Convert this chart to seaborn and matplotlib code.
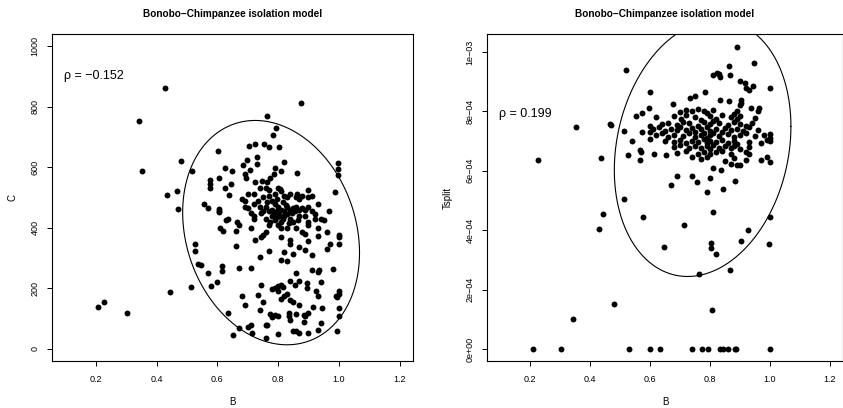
import numpy as np
import pandas as pd
import matplotlib
matplotlib.use("Agg")
import matplotlib.pyplot as plt
import seaborn as sns

sns.set_theme(style="white")
plt.rcParams['font.family'] = ['Liberation Sans', 'DejaVu Sans']
plt.rcParams['text.color'] = 'black'
plt.rcParams['axes.labelcolor'] = 'black'
plt.rcParams['xtick.color'] = 'black'
plt.rcParams['ytick.color'] = 'black'
plt.rcParams['axes.edgecolor'] = 'black'

# ---------------- data ----------------
left_pairs = [
    (0.428, 863), (0.876, 812), (0.341, 754), (0.763, 769), (0.792, 728), (0.783, 706),
    (0.705, 671), (0.724, 676), (0.755, 677), (0.769, 666), (0.803, 666), (0.603, 654),
    (0.730, 635), (0.698, 624), (0.730, 612), (0.819, 618), (0.996, 615), (0.481, 622),
    (0.684, 608), (0.625, 597),
    (0.791, 598), (0.811, 589), (0.862, 582), (0.998, 593), (0.996, 575), (0.709, 592),
    (0.690, 577), (0.649, 586), (0.516, 587), (0.352, 586), (0.604, 564), (0.577, 559),
    (0.694, 565), (0.775, 565), (0.785, 577), (0.747, 555), (0.763, 552), (0.723, 550),
    (0.577, 544), (0.577, 530), (0.646, 546), (0.625, 532), (0.638, 508), (0.987, 519),
    (0.466, 522), (0.436, 509), (0.862, 512), (0.840, 510), (0.880, 505), (0.900, 500),
    (0.760, 530), (0.770, 525), (0.740, 532), (0.800, 530), (0.810, 520), (0.790, 510),
    (0.770, 505), (0.750, 500), (0.720, 510), (0.700, 510), (0.680, 495), (0.860, 500),
    (0.870, 495), (0.900, 525), (0.910, 505), (0.820, 505), (0.830, 500), (0.805, 528),
    (0.556, 477), (0.571, 465), (0.604, 461), (0.604, 452), (0.470, 463), (0.967, 456),
    (0.690, 490), (0.690, 470), (0.700, 465), (0.720, 480), (0.740, 470), (0.760, 470),
    (0.780, 490), (0.790, 480), (0.800, 470), (0.810, 460), (0.820, 455), (0.830, 470),
    (0.840, 460), (0.850, 465), (0.860, 470), (0.870, 460), (0.880, 465), (0.890, 460),
    (0.900, 470), (0.910, 455), (0.920, 445), (0.930, 480), (0.770, 455), (0.780, 460),
    (0.800, 450), (0.750, 455), (0.710, 450), (0.765, 485), (0.795, 495), (0.815, 485),
    (0.825, 475), (0.845, 448), (0.855, 455), (0.785, 445), (0.795, 455), (0.735, 490),
    (0.890, 440), (0.900, 420), (0.920, 430), (0.930, 400), (0.940, 430), (0.950, 425),
    (0.960, 385), (0.900, 410), (0.870, 440), (0.860, 400), (0.850, 420), (0.840, 430),
    (0.830, 445), (0.820, 440), (0.810, 420), (0.800, 410), (0.790, 425), (0.780, 440),
    (0.770, 410), (0.760, 430), (0.745, 450), (0.720, 440), (0.720, 430), (0.710, 400),
    (0.670, 410), (0.660, 390), (0.665, 420), (0.635, 430), (0.630, 425), (0.620, 390),
    (0.610, 400), (0.605, 455), (0.810, 398), (0.830, 400), (0.880, 385), (0.890, 378),
    (0.795, 435), (0.815, 430), (0.835, 415), (0.775, 420), (0.805, 440), (0.865, 425),
    (0.760, 385), (0.750, 375), (0.745, 370), (0.725, 360), (0.810, 370), (0.840, 360),
    (0.840, 345), (0.870, 335), (0.900, 355), (0.930, 372), (0.970, 345), (0.960, 330),
    (1.000, 375), (1.000, 368), (1.000, 345),
    (0.525, 348), (0.525, 322), (0.660, 340), (0.770, 322), (0.740, 303), (0.820, 320),
    (0.850, 315), (0.890, 325), (0.910, 310),
    (0.535, 280), (0.545, 278), (0.615, 275), (0.615, 258), (0.570, 252), (0.670, 268),
    (0.710, 268), (0.810, 292), (0.830, 290), (0.860, 250), (0.910, 260), (0.930, 255),
    (0.935, 262), (0.980, 265),
    (0.580, 208), (0.600, 220), (0.515, 205), (0.745, 210), (0.790, 200), (0.800, 208),
    (0.810, 210), (0.815, 205), (0.840, 225), (0.855, 210), (0.870, 225), (0.895, 218),
    (0.940, 220), (0.780, 197),
    (0.443, 187), (0.680, 175), (0.735, 178), (0.750, 155), (0.810, 165), (0.820, 175),
    (0.830, 180), (0.840, 160), (0.850, 155), (0.800, 190), (0.895, 200), (0.925, 190),
    (0.930, 175), (0.990, 175), (1.000, 190), (1.000, 180), (0.995, 170),
    (0.209, 137), (0.226, 156), (0.304, 120), (0.635, 120), (0.690, 145), (0.740, 130),
    (0.775, 115), (0.780, 105), (0.790, 112), (0.800, 110), (0.835, 120), (0.835, 110),
    (0.870, 145), (0.885, 112), (0.890, 108), (0.900, 120), (0.915, 140), (0.945, 135),
    (1.000, 135), (1.000, 110), (0.860, 115),
    (0.670, 68), (0.700, 72), (0.710, 80), (0.760, 80), (0.765, 80), (0.840, 95),
    (0.850, 60), (0.860, 58), (0.870, 52), (0.885, 88), (0.900, 52), (0.930, 62),
    (0.940, 85), (0.995, 60), (0.715, 52), (0.800, 48), (0.650, 45), (0.760, 37),
]

right_pairs = [
    (0.210, 0.0), (0.304, 0.0), (0.530, 0.0), (0.600, 0.0), (0.633, 0.0), (0.740, 0.0),
    (0.775, 0.0), (0.795, 0.0), (0.835, 0.0), (0.843, 0.0), (0.862, 0.0), (0.884, 0.0),
    (0.888, 0.0), (1.000, 0.0),
    (0.226, 6.36e-4), (0.341, 1.00e-4), (0.352, 7.46e-4), (0.428, 4.04e-4),
    (0.436, 6.43e-4), (0.443, 4.54e-4), (0.466, 7.58e-4), (0.470, 7.53e-4), (0.481, 1.52e-4),
    (0.520, 9.40e-4), (0.513, 7.33e-4), (0.512, 5.04e-4), (0.528, 6.54e-4), (0.540, 7.02e-4),
    (0.552, 7.84e-4), (0.574, 7.95e-4), (0.574, 7.29e-4), (0.566, 6.71e-4), (0.570, 6.62e-4),
    (0.566, 6.37e-4), (0.575, 4.44e-4), (0.600, 8.64e-4), (0.598, 8.11e-4), (0.600, 7.52e-4),
    (0.600, 7.30e-4), (0.600, 7.08e-4), (0.614, 6.57e-4), (0.654, 6.54e-4), (0.645, 3.45e-4),
    (0.669, 5.53e-4), (0.691, 5.82e-4), (0.678, 8.26e-4), (0.732, 8.46e-4), (0.751, 8.51e-4),
    (0.783, 8.67e-4), (0.739, 5.81e-4), (0.758, 5.62e-4), (0.791, 5.27e-4), (0.800, 5.75e-4),
    (0.809, 6.10e-4), (0.837, 6.03e-4), (0.845, 5.38e-4), (0.884, 5.66e-4), (0.811, 4.60e-4),
    (0.713, 4.17e-4), (0.803, 3.56e-4), (0.803, 3.39e-4), (0.819, 3.20e-4), (0.764, 2.53e-4),
    (0.867, 2.65e-4), (0.806, 1.31e-4), (0.903, 3.63e-4), (0.928, 4.02e-4), (0.997, 3.55e-4),
    (1.000, 4.43e-4), (1.000, 8.78e-4), (0.949, 9.63e-4), (0.889, 10.17e-4), (0.865, 9.53e-4),
    (0.866, 9.21e-4), (0.812, 9.23e-4), (0.824, 9.30e-4), (0.832, 9.25e-4), (0.835, 9.17e-4),
    (0.899, 9.03e-4), (0.917, 8.96e-4), (0.920, 8.80e-4), (0.943, 8.85e-4), (0.932, 8.71e-4),
    (0.904, 8.39e-4), (0.904, 8.28e-4), (0.900, 8.21e-4), (0.834, 8.37e-4), (0.865, 8.36e-4),
    (0.963, 8.11e-4), (0.962, 8.02e-4), (0.937, 8.10e-4),
    (0.700, 7.98e-4), (0.720, 8.05e-4), (0.740, 8.00e-4), (0.760, 8.08e-4), (0.780, 8.02e-4),
    (0.790, 7.95e-4), (0.810, 8.06e-4), (0.880, 7.92e-4), (0.890, 8.00e-4),
    (0.620, 7.80e-4), (0.680, 7.85e-4), (0.705, 7.75e-4), (0.720, 7.88e-4), (0.750, 7.80e-4),
    (0.770, 7.72e-4), (0.800, 7.84e-4), (0.820, 7.76e-4), (0.840, 7.88e-4), (0.870, 7.80e-4),
    (0.890, 7.74e-4), (0.900, 7.86e-4), (0.950, 7.78e-4),
    (0.640, 7.58e-4), (0.660, 7.62e-4), (0.690, 7.55e-4), (0.710, 7.66e-4), (0.730, 7.60e-4),
    (0.760, 7.52e-4), (0.780, 7.64e-4), (0.800, 7.56e-4), (0.810, 7.68e-4), (0.830, 7.60e-4),
    (0.860, 7.55e-4), (0.880, 7.65e-4), (0.900, 7.58e-4), (0.920, 7.52e-4), (0.940, 7.62e-4),
    (0.610, 7.40e-4), (0.630, 7.46e-4), (0.650, 7.35e-4), (0.670, 7.42e-4), (0.690, 7.38e-4),
    (0.700, 7.48e-4), (0.720, 7.36e-4), (0.740, 7.44e-4), (0.750, 7.32e-4), (0.770, 7.40e-4),
    (0.790, 7.46e-4), (0.800, 7.34e-4), (0.820, 7.42e-4), (0.840, 7.30e-4), (0.850, 7.44e-4),
    (0.870, 7.36e-4), (0.890, 7.42e-4), (0.910, 7.34e-4), (0.930, 7.46e-4), (0.960, 7.38e-4),
    (1.000, 7.25e-4),
    (0.620, 7.20e-4), (0.640, 7.26e-4), (0.660, 7.15e-4), (0.680, 7.22e-4), (0.710, 7.18e-4),
    (0.730, 7.28e-4), (0.750, 7.14e-4), (0.770, 7.22e-4), (0.780, 7.28e-4), (0.790, 7.12e-4),
    (0.800, 7.20e-4), (0.810, 7.26e-4), (0.830, 7.16e-4), (0.860, 7.24e-4), (0.880, 7.14e-4),
    (0.900, 7.22e-4), (0.920, 7.28e-4), (0.950, 7.16e-4), (0.980, 7.20e-4), (1.000, 7.12e-4),
    (0.650, 7.00e-4), (0.680, 6.96e-4), (0.700, 7.04e-4), (0.720, 6.94e-4), (0.740, 7.02e-4),
    (0.760, 6.98e-4), (0.780, 7.06e-4), (0.790, 6.92e-4), (0.800, 7.00e-4), (0.820, 6.96e-4),
    (0.840, 7.04e-4), (0.860, 6.94e-4), (0.880, 7.02e-4), (0.890, 6.90e-4), (0.930, 6.98e-4),
    (0.970, 6.95e-4), (0.990, 7.05e-4), (1.000, 7.00e-4),
    (0.680, 6.80e-4), (0.700, 6.86e-4), (0.730, 6.78e-4), (0.750, 6.84e-4), (0.770, 6.76e-4),
    (0.790, 6.82e-4), (0.800, 6.74e-4), (0.810, 6.86e-4), (0.830, 6.78e-4), (0.850, 6.84e-4),
    (0.870, 6.76e-4), (0.880, 6.82e-4), (0.900, 6.74e-4), (0.930, 6.80e-4),
    (0.690, 6.60e-4), (0.720, 6.66e-4), (0.760, 6.58e-4), (0.780, 6.64e-4), (0.800, 6.56e-4),
    (0.820, 6.62e-4), (0.840, 6.66e-4), (0.870, 6.58e-4), (0.920, 6.62e-4), (0.930, 6.55e-4),
    (0.740, 6.45e-4), (0.770, 6.40e-4), (0.790, 6.48e-4), (0.850, 6.34e-4), (0.880, 6.42e-4),
    (0.920, 6.36e-4), (0.970, 6.38e-4), (0.990, 6.48e-4), (1.000, 6.29e-4),
    (0.870, 6.24e-4), (0.890, 6.18e-4), (0.900, 6.20e-4),
]

b_left = [p[0] for p in left_pairs]
c_left = [p[1] for p in left_pairs]
b_right = [p[0] for p in right_pairs]
t_right = [p[1] for p in right_pairs]

# ellipse parameters: centre x, centre y, half-width x, half-height y, correlation
ell_left = [0.777, 384.0, 0.291, 370.5, -0.18]
ell_right = [0.7757, 6.76e-4, 0.295, 4.32e-4, 0.17]

title = "Bonobo\u2212Chimpanzee isolation model"
rho_left = "\u03c1 = \u22120.152"
rho_right = "\u03c1 = 0.199"
x_ticks = [0.2, 0.4, 0.6, 0.8, 1.0, 1.2]
x_tick_labels = ["0.2", "0.4", "0.6", "0.8", "1.0", "1.2"]
y_ticks_left = [0, 200, 400, 600, 800, 1000]
y_tick_labels_left = ["0", "200", "400", "600", "800", "1000"]
y_ticks_right = [0, 2e-4, 4e-4, 6e-4, 8e-4, 1e-3]
y_tick_labels_right = ["0e+00", "2e\u221204", "4e\u221204", "6e\u221204", "8e\u221204", "1e\u221203"]

df_left = pd.DataFrame({"B": b_left, "C": c_left})
df_right = pd.DataFrame({"B": b_right, "Tsplit": t_right})

# ---------------- figure ----------------
W, H = 843, 408
fig = plt.figure(figsize=(W / 100, H / 100), dpi=100)
fig.patch.set_facecolor("white")
ax1 = fig.add_axes([52 / W, 47 / H, 361 / W, 327 / H])
ax2 = fig.add_axes([487.2 / W, 47 / H, 355.6 / W, 327 / H])


def ellipse(ax, p):
    cx, cy, hx, hy, r = p
    t = np.linspace(0, 2 * np.pi, 400)
    ax.plot(cx + hx * np.cos(t), cy + hy * np.cos(t - np.arccos(r)),
            color="black", lw=0.8, zorder=3)


def style(ax, yt, ytl, ylabel, ylim):
    ax.set_xlim(0.056, 1.244)
    ax.set_ylim(*ylim)
    ax.set_xticks(x_ticks)
    ax.set_xticklabels(x_tick_labels)
    ax.set_yticks(yt)
    ax.set_yticklabels(ytl, rotation=90, va="center")
    ax.tick_params(axis="both", direction="out", length=3.6, width=0.7,
                   labelsize=6.5, color="black", labelcolor="black",
                   bottom=True, left=True)
    ax.tick_params(axis="x", pad=6.5)
    ax.tick_params(axis="y", pad=5.5)
    for s in ax.spines.values():
        s.set_visible(True)
        s.set_color("black")
        s.set_linewidth(0.8)
    ax.set_facecolor("white")
    ax.grid(False)
    ax.set_xlabel("B", fontsize=7, labelpad=9, color="black")
    ax.set_ylabel(ylabel, fontsize=7, labelpad=9, color="black")
    ax.set_title(title, fontsize=7.2, fontweight="bold", pad=12.5, color="black")


sns.scatterplot(data=df_left, x="B", y="C", ax=ax1, color="black", s=18,
                linewidth=0, legend=False, zorder=4)
ellipse(ax1, ell_left)
style(ax1, y_ticks_left, y_tick_labels_left, "C", (-40, 1040))
ax1.text(0.094, 900, rho_left, fontsize=9, color="black", va="center", ha="left")

sns.scatterplot(data=df_right, x="B", y="Tsplit", ax=ax2, color="black", s=18,
                linewidth=0, legend=False, zorder=4)
ellipse(ax2, ell_right)
style(ax2, y_ticks_right, y_tick_labels_right, "Tsplit", (-0.0406e-3, 1.0607e-3))
ax2.text(0.094, 7.92e-4, rho_right, fontsize=9, color="black", va="center", ha="left")

fig.savefig("out.png", dpi=100, facecolor="white")
